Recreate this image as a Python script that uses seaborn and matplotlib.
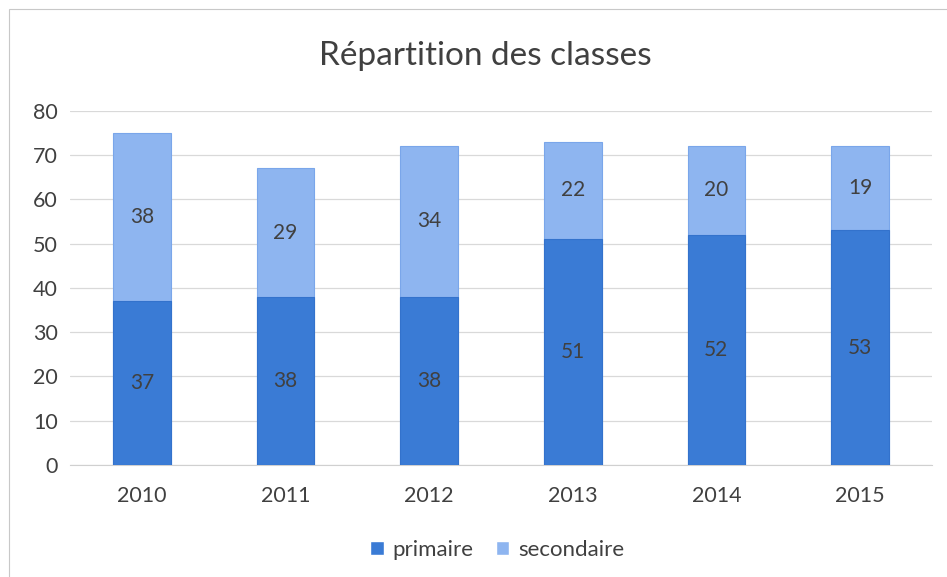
import matplotlib
matplotlib.use("Agg")
import pandas as pd
import matplotlib.pyplot as plt
import seaborn as sns
from matplotlib.patches import Patch, Rectangle

YEARS = ['2010', '2011', '2012', '2013', '2014', '2015']
PRIMAIRE = [37, 38, 38, 51, 52, 53]
SECONDAIRE = [38, 29, 34, 22, 20, 19]

DARK = '#3A7BD5'
LIGHT = '#8EB5F0'
TEXT = '#404040'


def make_chart():
    df = pd.DataFrame({'annee': YEARS, 'primaire': PRIMAIRE, 'secondaire': SECONDAIRE})
    df['total'] = df['primaire'] + df['secondaire']

    sns.set_style('white')
    plt.rcParams['font.family'] = ['Lato', 'DejaVu Sans']

    fig = plt.figure(figsize=(9.47, 5.77), dpi=100)
    ax = fig.add_axes([0.074, 0.194, 0.910, 0.614])

    sns.barplot(data=df, x='annee', y='total', color=LIGHT, width=0.4,
                saturation=1, edgecolor='#7aa6ea', linewidth=0.8, ax=ax, zorder=2)
    sns.barplot(data=df, x='annee', y='primaire', color=DARK, width=0.4,
                saturation=1, edgecolor='#3372cc', linewidth=0.8, ax=ax, zorder=3)

    # data labels centred in each segment
    for i, (p, s) in enumerate(zip(PRIMAIRE, SECONDAIRE)):
        ax.text(i, p / 2, str(p), ha='center', va='center', fontsize=15, color=TEXT, zorder=4)
        ax.text(i, p + s / 2, str(s), ha='center', va='center', fontsize=15, color=TEXT, zorder=4)

    ax.set_ylim(0, 80)
    ax.set_yticks(range(0, 81, 10))
    ax.yaxis.grid(True, color='#d9d9d9', linewidth=0.9, zorder=0)
    ax.set_axisbelow(True)
    for side in ['top', 'right', 'left']:
        ax.spines[side].set_visible(False)
    ax.spines['bottom'].set_color('#d0d0d0')
    ax.tick_params(axis='both', length=0, labelsize=15.5, labelcolor=TEXT)
    ax.tick_params(axis='x', pad=15)
    ax.tick_params(axis='y', pad=9)
    ax.set_xlabel('')
    ax.set_ylabel('')

    fig.text(0.513, 0.903, 'Répartition des classes', ha='center', va='center',
             fontsize=24, color=TEXT)

    handles = [Patch(facecolor=DARK, label='primaire'), Patch(facecolor=LIGHT, label='secondaire')]
    fig.legend(handles=handles, loc='center', bbox_to_anchor=(0.525, 0.047), ncol=2,
               frameon=False, fontsize=16, handlelength=0.6, handleheight=0.6,
               handletextpad=0.4, columnspacing=1.0, labelcolor=TEXT)

    # chart area border
    fig.patches.append(Rectangle((0.009, -0.01), 1.1, 0.995, transform=fig.transFigure,
                                 fill=False, edgecolor='#c8c8c8', linewidth=0.8))

    fig.savefig('out.png', dpi=100)


if __name__ == '__main__':
    make_chart()
